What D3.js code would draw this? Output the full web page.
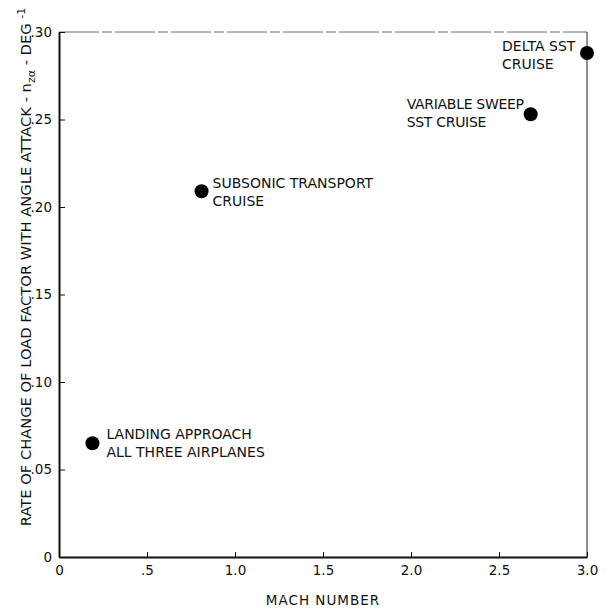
<!DOCTYPE html>
<html>
<head>
<meta charset="utf-8">
<script src="https://cdn.jsdelivr.net/npm/d3@7"></script>
<style>
  body { margin: 0; background: #fff; }
  svg text { font-family: "DejaVu Sans", sans-serif; fill: #111; }
  .axis path, .axis line { stroke: #111; }
</style>
</head>
<body>
<div id="plot-area"></div>
<script>
// values
const mach = [0.19, 0.81, 2.68, 3.0];
const rate = [0.065, 0.209, 0.253, 0.288];
const pointLabels = [
    ["LANDING APPROACH", "ALL THREE AIRPLANES"],
    ["SUBSONIC TRANSPORT", "CRUISE"],
    ["VARIABLE SWEEP", "SST CRUISE"],
    ["DELTA SST", "CRUISE"]
];
const xTicks = [0, 0.5, 1.0, 1.5, 2.0, 2.5, 3.0];
const xTickLabels = ["0", ".5", "1.0", "1.5", "2.0", "2.5", "3.0"];
const yTicks = [0, 0.05, 0.10, 0.15, 0.20, 0.25, 0.30];
const yTickLabels = ["0", ".05", ".10", ".15", ".20", ".25", ".30"];

const totalWidth = 607, totalHeight = 608;
const margin = {top: 32, right: 20, bottom: 51, left: 59};
const width = totalWidth - margin.left - margin.right,
    height = totalHeight - margin.top - margin.bottom;

// label offsets relative to each point (dx, dy of first baseline)
const labelOffsets = [[14, -4], [11, -3], [-124, -5], [-85, -2]];

const xScale = d3.scaleLinear().domain([0, 3]).range([0, width]);
const yScale = d3.scaleLinear().domain([0, 0.30]).range([height, 0]);

const svg = d3.select("#plot-area").append("svg")
    .attr("width", totalWidth)
    .attr("height", totalHeight)
    .append("g").attr("transform", "translate(" + margin.left + "," + margin.top + ")");

// frame: top and right edges are faint in the scan
svg.append("line")
    .attr("x1", 0).attr("x2", width).attr("y1", 0).attr("y2", 0)
    .style("stroke", "#666").style("stroke-width", 1)
    .style("stroke-dasharray", "40,3,10,3");
svg.append("line")
    .attr("x1", width).attr("x2", width).attr("y1", 0).attr("y2", height)
    .style("stroke", "#222").style("stroke-width", 1);

let xAxis = d3.axisBottom(xScale)
    .tickValues(xTicks)
    .tickSizeInner(-5).tickSizeOuter(0)
    .tickPadding(8)
    .tickFormat(function (d, i) { return xTickLabels[i]; });

let yAxis = d3.axisLeft(yScale)
    .tickValues(yTicks)
    .tickSizeInner(-6).tickSizeOuter(0)
    .tickPadding(7)
    .tickFormat(function (d, i) { return yTickLabels[i]; });

//Draw x-axis
let gx = svg.append("g")
    .attr("class", "axis")
    .attr("transform", "translate(0," + height + ")")
    .call(xAxis);
gx.select(".domain").style("stroke-width", 2);
gx.selectAll("text").style("font-size", "13.5px").style("font-family", null);

//Draw y-axis
let gy = svg.append("g")
    .attr("class", "axis")
    .call(yAxis);
gy.select(".domain").style("stroke-width", 2);
gy.selectAll("text").style("font-size", "13.5px").style("font-family", null);

// x title
svg.append("text")
    .attr("x", xScale(1.5))
    .attr("y", height + 48)
    .style("text-anchor", "middle")
    .style("font-size", "13.5px")
    .style("letter-spacing", "1px")
    .text("MACH NUMBER");

// y title with subscript and superscript
let yTitle = svg.append("text")
    .attr("transform", "rotate(-90)")
    .attr("x", -235)
    .attr("y", -28)
    .style("text-anchor", "middle")
    .style("font-size", "14.7px");
yTitle.append("tspan").text("RATE OF CHANGE OF LOAD FACTOR WITH ANGLE ATTACK - n");
yTitle.append("tspan").attr("dy", 4).style("font-size", "11px").text("zα");
yTitle.append("tspan").attr("dy", -4).text(" - DEG ");
yTitle.append("tspan").attr("dy", -6).style("font-size", "11px").text("-1");

// points
svg.append("g").selectAll("circle")
    .data(mach)
    .enter().append("circle")
    .attr("cx", function (d) { return xScale(d); })
    .attr("cy", function (d, i) { return yScale(rate[i]); })
    .attr("r", 7)
    .style("fill", "#000");

// point labels
let labels = svg.append("g").selectAll("text")
    .data(pointLabels)
    .enter().append("text")
    .attr("x", function (d, i) { return xScale(mach[i]) + labelOffsets[i][0]; })
    .attr("y", function (d, i) { return yScale(rate[i]) + labelOffsets[i][1]; })
    .style("font-size", "14px")
    .style("letter-spacing", function (d, i) { return i === 2 ? "-0.3px" : null; });
labels.selectAll("tspan")
    .data(function (d) { return d; })
    .enter().append("tspan")
    .attr("x", function () { return d3.select(this.parentNode).attr("x"); })
    .attr("dy", function (d, j) { return j === 0 ? 0 : 18; })
    .text(function (d) { return d; });
</script>
</body>
</html>
